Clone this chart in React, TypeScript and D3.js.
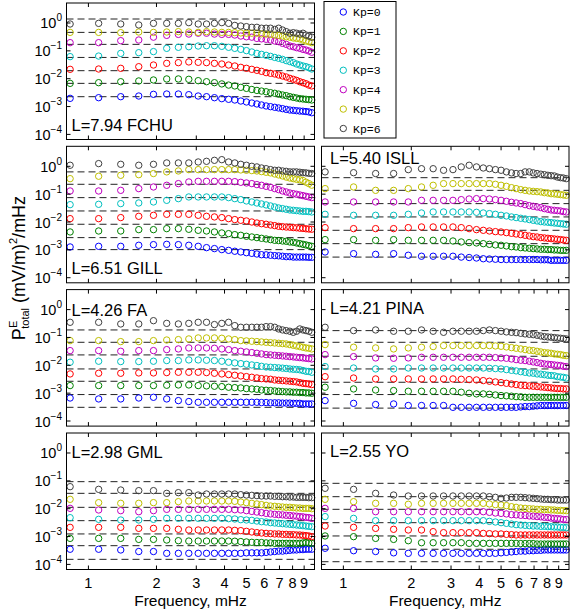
import React from 'react';
import * as d3 from 'd3';

// Frequencies (mHz) of the spectral estimates
const freqs = [0.83, 1.11, 1.39, 1.67, 1.94, 2.22, 2.50, 2.78, 3.06, 3.33, 3.61, 3.89, 4.17, 4.44, 4.72, 5.00, 5.28, 5.56, 5.83, 6.11, 6.39, 6.67, 6.94, 7.22, 7.50, 7.78, 8.06, 8.33, 8.61, 8.89, 9.17, 9.44, 9.72];

const kpLabels = ['Kp=0', 'Kp=1', 'Kp=2', 'Kp=3', 'Kp=4', 'Kp=5', 'Kp=6'];
const kpColors = ['#0000ff', '#008000', '#ff0000', '#00bfbf', '#bf00bf', '#bfbf00', '#404040'];

const xTicks = [1, 2, 3, 4, 5, 6, 7, 8, 9];
const yTicks = [1e-4, 1e-3, 1e-2, 1e-1, 1];
const yTickExp = ['\u22124', '\u22123', '\u22122', '\u22121', '0'];

// ---- FCHU L=7.94 ----
const fchuKp0 = [0.00197,0.00208,0.00226,0.00239,0.00275,0.00282,0.00282,0.00267,0.00239,0.00226,0.00208,0.00192,0.00182,0.00172,0.00158,0.00146,0.00134,0.00124,0.00114,0.00105,0.00099,0.00094,0.00089,0.00084,0.00079,0.00075,0.00073,0.00071,0.00069,0.00068,0.00066,0.00064,0.0006];
const fchuKp1 = [0.0068,0.0072,0.0078,0.0083,0.0090,0.0098,0.0098,0.0095,0.0085,0.0078,0.0072,0.0065,0.0059,0.0055,0.0049,0.0045,0.0041,0.0038,0.0036,0.0034,0.00315,0.0030,0.0028,0.0026,0.00246,0.00226,0.00214,0.00203,0.00192,0.00187,0.00182,0.00177,0.00172];
const fchuKp2 = [0.0217,0.0223,0.0236,0.027,0.031,0.0356,0.0377,0.040,0.0387,0.0377,0.0356,0.0337,0.031,0.0286,0.0256,0.0236,0.0217,0.020,0.0184,0.0165,0.0156,0.0148,0.0136,0.0125,0.0115,0.0103,0.0095,0.0087,0.0078,0.0072,0.0066,0.0059,0.0055];
const fchuKp3 = [0.062,0.065,0.081,0.086,0.094,0.123,0.134,0.141,0.149,0.153,0.153,0.145,0.134,0.123,0.113,0.102,0.091,0.081,0.075,0.069,0.0635,0.058,0.054,0.0495,0.0445,0.041,0.0377,0.0337,0.031,0.0286,0.027,0.0249,0.0223];
const fchuKp4 = [0.197,0.197,0.232,0.245,0.31,0.36,0.39,0.40,0.43,0.43,0.40,0.39,0.39,0.37,0.34,0.32,0.31,0.28,0.27,0.26,0.245,0.226,0.214,0.186,0.171,0.149,0.141,0.13,0.123,0.113,0.107,0.099,0.089];
const fchuKp5 = [0.46,0.46,0.45,0.475,0.46,0.475,0.49,0.475,0.46,0.49,0.475,0.46,0.46,0.45,0.44,0.43,0.43,0.43,0.41,0.40,0.39,0.37,0.36,0.34,0.32,0.31,0.29,0.28,0.27,0.245,0.226,0.214,0.197];
const fchuKp6 = [0.92,0.97,0.92,0.85,0.97,0.97,0.97,1.03,0.92,0.92,0.97,1.03,0.97,0.82,0.78,0.74,0.70,0.70,0.65,0.65,0.65,0.59,0.65,0.56,0.49,0.43,0.45,0.43,0.40,0.43,0.37,0.34,0.31];
const fchuRef = [0.00226, 0.0068, 0.0194, 0.058, 0.171, 0.46, 1.39];

// ---- GILL L=6.51 ----
const gillKp0 = [0.00127,0.00134,0.00134,0.00146,0.00154,0.00158,0.00154,0.00146,0.00134,0.0012,0.00111,0.00102,0.00096,0.00089,0.00084,0.00079,0.00075,0.00071,0.00067,0.00066,0.00064,0.00062,0.00061,0.00059,0.00057,0.00057,0.00055,0.00055,0.00055,0.00055,0.00055,0.00054,0.00054];
const gillKp1 = [0.00439,0.00476,0.00476,0.00532,0.00532,0.00578,0.00578,0.00547,0.00503,0.00476,0.00439,0.00404,0.00382,0.00352,0.00333,0.00307,0.0029,0.00275,0.0026,0.00246,0.00233,0.0022,0.00215,0.00208,0.00203,0.00192,0.00187,0.00177,0.00167,0.00158,0.0015,0.00142,0.00134];
const gillKp2 = [0.0132,0.0132,0.0144,0.016,0.0174,0.0189,0.0189,0.0189,0.0174,0.016,0.0152,0.0144,0.0132,0.0122,0.0115,0.0109,0.010,0.0092,0.0087,0.0083,0.0078,0.0074,0.0070,0.0068,0.0066,0.0065,0.0063,0.0062,0.0060,0.0059,0.0057,0.0056,0.0055];
const gillKp3 = [0.042,0.0432,0.0457,0.0482,0.0524,0.060,0.069,0.0793,0.0793,0.0793,0.0793,0.0793,0.075,0.069,0.0635,0.057,0.0524,0.0482,0.0445,0.041,0.0377,0.0347,0.0319,0.0302,0.0286,0.027,0.0263,0.0256,0.0249,0.0242,0.0242,0.0236,0.0229];
const gillKp4 = [0.13,0.13,0.137,0.158,0.181,0.208,0.239,0.274,0.289,0.289,0.289,0.289,0.289,0.281,0.266,0.252,0.239,0.22,0.208,0.191,0.176,0.158,0.145,0.13,0.12,0.11,0.104,0.099,0.0935,0.0885,0.0837,0.0793,0.075];
const gillKp5 = [0.36,0.44,0.475,0.50,0.55,0.63,0.68,0.76,0.76,0.76,0.76,0.76,0.76,0.76,0.74,0.72,0.70,0.68,0.645,0.61,0.58,0.53,0.49,0.45,0.41,0.38,0.36,0.34,0.33,0.31,0.27,0.24,0.21];
const gillKp6 = [1.09,1.25,1.18,1.09,1.18,1.32,1.32,1.32,1.43,1.51,1.64,1.73,1.43,1.32,1.18,1.09,1.0,0.95,0.87,0.82,0.76,0.72,0.72,0.68,0.66,0.63,0.63,0.63,0.61,0.59,0.58,0.56,0.55];
const gillRef = [0.00102, 0.00275, 0.0083, 0.0249, 0.075, 0.226, 0.63];

// ---- ISLL L=5.40 ----
const isllKp0 = [0.00084,0.00073,0.00069,0.00073,0.00064,0.00059,0.00059,0.00059,0.00059,0.00055,0.00053,0.00051,0.00048,0.00047,0.00046,0.00045,0.00045,0.00045,0.00045,0.00045,0.00045,0.00045,0.00045,0.00045,0.00044,0.00044,0.00044,0.00042,0.00042,0.00042,0.00042,0.00042,0.00042];
const isllKp1 = [0.00233,0.00233,0.0022,0.00233,0.0022,0.0022,0.0022,0.0022,0.00208,0.00192,0.00182,0.00177,0.00167,0.00158,0.0015,0.00146,0.00138,0.0013,0.00127,0.0012,0.00117,0.00114,0.00111,0.00108,0.00105,0.00105,0.00102,0.00102,0.00099,0.00099,0.00096,0.00096,0.00096];
const isllKp2 = [0.00628,0.00578,0.00578,0.00578,0.00628,0.00664,0.00664,0.00664,0.00664,0.00628,0.00578,0.00532,0.00503,0.00476,0.00451,0.00439,0.00415,0.00393,0.00372,0.00352,0.00333,0.00315,0.00298,0.0029,0.00275,0.00268,0.0026,0.00253,0.00246,0.0024,0.00233,0.00226,0.0022];
const isllKp3 = [0.0189,0.0174,0.0174,0.0174,0.0189,0.0211,0.0229,0.0229,0.0229,0.0229,0.0229,0.0223,0.0211,0.020,0.0189,0.0174,0.0165,0.0152,0.0144,0.0136,0.0129,0.0122,0.0115,0.0109,0.0103,0.010,0.0098,0.0095,0.0092,0.0090,0.0087,0.0085,0.0083];
const isllKp4 = [0.0524,0.0524,0.0524,0.0524,0.0524,0.060,0.060,0.060,0.060,0.0635,0.067,0.069,0.069,0.067,0.0635,0.060,0.0554,0.051,0.0482,0.0457,0.042,0.0387,0.0366,0.0347,0.0328,0.0302,0.0286,0.027,0.0263,0.0256,0.0249,0.0236,0.0229];
const isllKp5 = [0.158,0.181,0.137,0.137,0.158,0.181,0.208,0.239,0.239,0.239,0.239,0.239,0.239,0.239,0.226,0.208,0.191,0.171,0.158,0.145,0.137,0.13,0.126,0.123,0.12,0.113,0.11,0.104,0.102,0.099,0.096,0.0935,0.091];
const isllKp6 = [0.63,0.59,0.55,0.55,0.76,0.82,0.82,0.72,0.76,0.95,1.09,0.95,0.87,0.82,0.76,0.72,0.63,0.58,0.55,0.55,0.63,0.63,0.58,0.55,0.52,0.50,0.475,0.46,0.45,0.41,0.39,0.38,0.36];
const isllRef = [0.00055, 0.00167, 0.00503, 0.0152, 0.0457, 0.137, 0.39];

// ---- FA L=4.26 ----
const faKp0 = [0.00067,0.00062,0.00062,0.00067,0.00071,0.00062,0.00054,0.0005,0.00047,0.00047,0.00047,0.00047,0.00047,0.00047,0.00047,0.00047,0.00047,0.00047,0.00046,0.00046,0.00045,0.00045,0.00045,0.00044,0.00044,0.00044,0.00043,0.00043,0.00043,0.00041,0.00041,0.00041,0.00041];
const faKp1 = [0.00187,0.00187,0.00187,0.00187,0.00187,0.00192,0.00197,0.00197,0.00187,0.00182,0.00177,0.00172,0.00163,0.00158,0.00154,0.00146,0.00142,0.00138,0.0013,0.00127,0.00124,0.0012,0.00117,0.00114,0.00111,0.00111,0.00108,0.00108,0.00105,0.00105,0.00102,0.00102,0.00099];
const faKp2 = [0.0049,0.00518,0.00518,0.00532,0.00532,0.00547,0.00562,0.00562,0.00562,0.00547,0.00518,0.0049,0.00463,0.00439,0.00415,0.00393,0.00372,0.00352,0.00333,0.00324,0.00315,0.00298,0.0029,0.00282,0.00275,0.00268,0.0026,0.00253,0.00239,0.00226,0.0022,0.00214,0.00203];
const faKp3 = [0.0129,0.014,0.0136,0.0136,0.014,0.0148,0.0148,0.0156,0.0156,0.0152,0.0148,0.014,0.0129,0.0122,0.0115,0.0109,0.0103,0.0098,0.0092,0.0087,0.0085,0.0083,0.0081,0.0079,0.0077,0.0074,0.0072,0.0071,0.0069,0.0065,0.0061,0.0060,0.0056];
const faKp4 = [0.0337,0.0337,0.0319,0.0337,0.0337,0.0366,0.0387,0.042,0.042,0.042,0.041,0.0387,0.0366,0.0337,0.0319,0.0302,0.0286,0.027,0.0256,0.0242,0.0236,0.0229,0.0223,0.0217,0.0211,0.0205,0.020,0.0194,0.0189,0.0184,0.0179,0.0174,0.0169];
const faKp5 = [0.077,0.077,0.071,0.071,0.077,0.081,0.0837,0.0885,0.096,0.096,0.096,0.0935,0.0885,0.0837,0.077,0.075,0.073,0.071,0.069,0.067,0.065,0.0635,0.0618,0.060,0.0585,0.0554,0.0524,0.0495,0.0469,0.0445,0.042,0.041,0.0387];
const faKp6 = [0.35,0.35,0.305,0.305,0.40,0.32,0.305,0.32,0.35,0.35,0.29,0.32,0.35,0.266,0.232,0.232,0.232,0.232,0.232,0.245,0.245,0.232,0.202,0.186,0.176,0.167,0.153,0.167,0.202,0.186,0.176,0.167,0.153];
const faRef = [0.00031, 0.00089, 0.00267, 0.0074, 0.0236, 0.067, 0.186];

// ---- PINA L=4.21 ----
const pinaKp0 = [0.00054,0.00043,0.00039,0.00041,0.00036,0.00036,0.00036,0.00036,0.00031,0.00031,0.00031,0.00031,0.00031,0.00031,0.00031,0.00031,0.00031,0.00031,0.00031,0.00032,0.00033,0.00033,0.00034,0.00035,0.00036,0.00036,0.00036,0.00036,0.00036,0.00036,0.00036,0.00036,0.00036];
const pinaKp1 = [0.00163,0.00142,0.0013,0.00124,0.00117,0.00117,0.00117,0.00117,0.00117,0.00108,0.00099,0.00094,0.00094,0.00091,0.00086,0.00082,0.0008,0.00078,0.00075,0.00074,0.00071,0.00071,0.00071,0.00071,0.00071,0.00071,0.00071,0.00071,0.00071,0.00071,0.00071,0.00071,0.00071];
const pinaKp2 = [0.0039,0.0035,0.00324,0.00324,0.00324,0.00324,0.00324,0.00324,0.00324,0.00315,0.00307,0.00298,0.00282,0.00268,0.00253,0.00239,0.00226,0.00214,0.00203,0.00192,0.00187,0.00182,0.00177,0.00172,0.00167,0.00163,0.00158,0.00154,0.0015,0.00146,0.00146,0.00142,0.00142];
const pinaKp3 = [0.009,0.008,0.0074,0.0074,0.008,0.008,0.008,0.008,0.008,0.008,0.008,0.008,0.008,0.0078,0.0076,0.0074,0.0070,0.0066,0.0063,0.0059,0.0056,0.0053,0.0052,0.0049,0.0048,0.0046,0.0044,0.0043,0.0042,0.0039,0.0038,0.0037,0.0035];
const pinaKp4 = [0.0242,0.0205,0.0184,0.0179,0.0184,0.0194,0.0194,0.0194,0.0194,0.0194,0.0194,0.0194,0.0194,0.0194,0.0189,0.0184,0.0179,0.0169,0.016,0.0152,0.0148,0.014,0.0132,0.0125,0.0118,0.0112,0.0109,0.0106,0.0103,0.010,0.0098,0.0092,0.009];
const pinaKp5 = [0.0554,0.0445,0.042,0.0387,0.042,0.0445,0.0469,0.051,0.051,0.051,0.051,0.051,0.051,0.051,0.0495,0.0482,0.0457,0.0432,0.041,0.0387,0.0366,0.0347,0.0337,0.0319,0.0302,0.0286,0.0278,0.027,0.0256,0.0249,0.0242,0.0229,0.0223];
const pinaKp6 = [0.232,0.176,0.186,0.167,0.167,0.186,0.167,0.153,0.167,0.167,0.167,0.167,0.176,0.186,0.176,0.167,0.158,0.153,0.149,0.141,0.134,0.13,0.126,0.12,0.113,0.107,0.104,0.102,0.099,0.096,0.0935,0.091,0.0885];
const pinaRef = [0.00029, 0.00089, 0.00246, 0.0074, 0.0211, 0.067, 0.176];

// ---- GML L=2.98 ----
const gmlKp0 = [0.00035,0.00035,0.00033,0.00029,0.00029,0.00025,0.00025,0.00025,0.00025,0.00025,0.00025,0.00025,0.00025,0.00025,0.00025,0.00026,0.00026,0.00026,0.00026,0.00027,0.00028,0.00029,0.0003,0.0003,0.00031,0.00032,0.00033,0.00033,0.00034,0.00034,0.00035,0.00035,0.00035];
const gmlKp1 = [0.00086,0.00086,0.00086,0.00079,0.00079,0.00075,0.00071,0.00069,0.00069,0.00069,0.00069,0.00069,0.00069,0.00068,0.00066,0.00064,0.00062,0.00061,0.00061,0.00059,0.00059,0.00057,0.00057,0.00057,0.00057,0.00057,0.00057,0.00057,0.00057,0.00059,0.00061,0.00059,0.00057];
const gmlKp2 = [0.00214,0.00214,0.00214,0.00197,0.00197,0.00197,0.00182,0.00172,0.00172,0.00172,0.00172,0.00172,0.00172,0.00167,0.00163,0.00154,0.00146,0.00138,0.00134,0.0013,0.00127,0.00124,0.00124,0.0012,0.0012,0.00117,0.00117,0.00114,0.00114,0.00111,0.00108,0.00105,0.00099];
const gmlKp3 = [0.00476,0.00415,0.00393,0.00393,0.00415,0.00451,0.00451,0.00451,0.00451,0.00451,0.00451,0.00451,0.00439,0.00427,0.00404,0.00393,0.00382,0.00361,0.00342,0.00333,0.00315,0.00307,0.00298,0.0029,0.00282,0.00275,0.00267,0.0026,0.00253,0.00246,0.00239,0.00233,0.00226];
const gmlKp4 = [0.0103,0.009,0.0085,0.0078,0.0085,0.0095,0.0095,0.0095,0.0095,0.0095,0.0095,0.0095,0.0095,0.0092,0.009,0.0085,0.008,0.0076,0.0072,0.0068,0.0065,0.0063,0.0061,0.006,0.0058,0.0057,0.0055,0.0054,0.0052,0.0051,0.0049,0.0048,0.0045];
const gmlKp5 = [0.0217,0.0165,0.0156,0.0156,0.0165,0.0165,0.0179,0.0189,0.0189,0.0189,0.0189,0.0189,0.0189,0.0184,0.0174,0.0165,0.0156,0.0148,0.014,0.0132,0.0125,0.0122,0.0118,0.0115,0.0112,0.0112,0.0109,0.0106,0.0106,0.0103,0.0103,0.0103,0.010];
const gmlKp6 = [0.0618,0.0495,0.0469,0.0445,0.0445,0.0356,0.0377,0.0377,0.031,0.0337,0.0337,0.0337,0.0337,0.0337,0.0319,0.031,0.0302,0.0295,0.0286,0.0286,0.0286,0.0278,0.0278,0.027,0.027,0.0263,0.0263,0.0256,0.0256,0.0256,0.0256,0.0249,0.0249];
const gmlRef = [0.000152, 0.00047, 0.00124, 0.00372, 0.0112, 0.0356, 0.0935];

// ---- YO L=2.55 ----
const yoKp0 = [0.00038,0.00031,0.00029,0.00026,0.00025,0.00025,0.00025,0.00025,0.00025,0.00025,0.00025,0.00025,0.00025,0.00025,0.00025,0.00026,0.00027,0.00028,0.00029,0.0003,0.0003,0.00031,0.00031,0.00032,0.00032,0.00033,0.00033,0.00033,0.00033,0.00033,0.00033,0.00033,0.00033];
const yoKp1 = [0.00105,0.00099,0.00086,0.00079,0.00071,0.0006,0.0006,0.0006,0.0006,0.0006,0.00057,0.00057,0.00057,0.00057,0.00057,0.00057,0.00057,0.00057,0.00057,0.00056,0.00056,0.00056,0.00056,0.00054,0.00054,0.00054,0.00054,0.00054,0.00054,0.00054,0.00054,0.00054,0.00054];
const yoKp2 = [0.00239,0.00214,0.00197,0.00182,0.00172,0.00172,0.0015,0.00138,0.00138,0.00138,0.00138,0.00138,0.0013,0.00127,0.00124,0.00124,0.0012,0.00117,0.00114,0.00114,0.00114,0.00114,0.00114,0.00114,0.00114,0.00114,0.00114,0.00114,0.00114,0.00114,0.00114,0.00114,0.00114];
const yoKp3 = [0.0052,0.0045,0.00372,0.00372,0.00372,0.00372,0.00372,0.00372,0.00372,0.00372,0.00372,0.00372,0.00372,0.00351,0.00333,0.00315,0.00298,0.00282,0.00267,0.0026,0.00253,0.00246,0.00239,0.00239,0.00233,0.00233,0.00226,0.00226,0.0022,0.0022,0.00214,0.00214,0.00208];
const yoKp4 = [0.0103,0.0103,0.0078,0.0078,0.0078,0.0078,0.0078,0.0078,0.0078,0.0078,0.0078,0.0078,0.0078,0.0074,0.0070,0.0068,0.0065,0.0061,0.006,0.0058,0.0057,0.0055,0.0054,0.0052,0.0051,0.0049,0.0048,0.0046,0.0045,0.0044,0.0043,0.0041,0.0041];
const yoKp5 = [0.0217,0.0179,0.0156,0.0156,0.0144,0.0156,0.0156,0.0156,0.0156,0.0156,0.0156,0.0156,0.0156,0.0148,0.014,0.0136,0.0129,0.0118,0.0112,0.0106,0.0103,0.010,0.0098,0.0095,0.0095,0.0092,0.0092,0.009,0.009,0.0087,0.0087,0.0085,0.0085];
const yoKp6 = [0.054,0.0495,0.0356,0.031,0.0286,0.0286,0.0286,0.0286,0.0286,0.0286,0.0286,0.0286,0.0286,0.027,0.0256,0.0236,0.0242,0.0256,0.0256,0.0256,0.0249,0.0242,0.0236,0.023,0.0223,0.0217,0.0217,0.0211,0.0211,0.0205,0.0205,0.0205,0.0205];
const yoRef = [0.000125, 0.00035, 0.00105, 0.00315, 0.0095, 0.027, 0.0815];

type Panel = {
  name: string; row: number; col: number; series: number[][]; refs: number[];
  labelDy: number;
};

const panels: Panel[] = [
  { name: 'L=7.94 FCHU', row: 0, col: 0, series: [fchuKp0, fchuKp1, fchuKp2, fchuKp3, fchuKp4, fchuKp5, fchuKp6], refs: fchuRef, labelDy: 127.7 },
  { name: 'L=6.51 GILL', row: 1, col: 0, series: [gillKp0, gillKp1, gillKp2, gillKp3, gillKp4, gillKp5, gillKp6], refs: gillRef, labelDy: 127.3 },
  { name: 'L=5.40 ISLL', row: 1, col: 1, series: [isllKp0, isllKp1, isllKp2, isllKp3, isllKp4, isllKp5, isllKp6], refs: isllRef, labelDy: 17.5 },
  { name: 'L=4.26 FA', row: 2, col: 0, series: [faKp0, faKp1, faKp2, faKp3, faKp4, faKp5, faKp6], refs: faRef, labelDy: 26 },
  { name: 'L=4.21 PINA', row: 2, col: 1, series: [pinaKp0, pinaKp1, pinaKp2, pinaKp3, pinaKp4, pinaKp5, pinaKp6], refs: pinaRef, labelDy: 24.3 },
  { name: 'L=2.98 GML', row: 3, col: 0, series: [gmlKp0, gmlKp1, gmlKp2, gmlKp3, gmlKp4, gmlKp5, gmlKp6], refs: gmlRef, labelDy: 25.3 },
  { name: 'L=2.55 YO', row: 3, col: 1, series: [yoKp0, yoKp1, yoKp2, yoKp3, yoKp4, yoKp5, yoKp6], refs: yoRef, labelDy: 23.7 },
];

const W = 574, H = 611;
const colX = [66.5, 321.5];
const colW = [248, 247.5];
const rowY = [3, 146.3, 289.6, 433];
const PH = 136.5;
const FONT = 'Liberation Sans, Arial, Helvetica, sans-serif';

function PanelView({ p }: { p: Panel }) {
  const x0 = colX[p.col], w = colW[p.col], y0 = rowY[p.row];
  const x = d3.scaleLog().domain([0.8, 10]).range([x0, x0 + w]);
  const y = d3.scaleLog().domain([Math.pow(10, -4.183), Math.pow(10, 0.718)]).range([y0 + PH, y0]);
  const showYLabels = p.col === 0;
  const showXLabels = p.row === 3;
  const tl = 4;
  return (
    <g>
      {p.refs.map((r, i) => (
        <line key={'ref' + i} x1={x0} x2={x0 + w} y1={y(r)} y2={y(r)} stroke="#222" strokeWidth={1} strokeDasharray="7,4" />
      ))}
      {p.series.map((s, k) => (
        <g key={'s' + k}>
          {s.map((v, i) => (
            <circle key={i} cx={x(freqs[i])} cy={y(v)} r={3.2} fill="none" stroke={kpColors[k]} strokeWidth={1} />
          ))}
        </g>
      ))}
      <rect x={x0} y={y0} width={w} height={PH} fill="none" stroke="#000" strokeWidth={1} />
      {yTicks.map((t, i) => (
        <g key={'yt' + i}>
          <line x1={x0} x2={x0 + tl} y1={y(t)} y2={y(t)} stroke="#000" />
          <line x1={x0 + w} x2={x0 + w - tl} y1={y(t)} y2={y(t)} stroke="#000" />
          {showYLabels && (
            <text x={62} y={y(t) + 5.5} textAnchor="end" fontFamily={FONT} fontSize={14.5} fill="#000">
              10<tspan dy={-7} fontSize={10}>{yTickExp[i]}</tspan>
            </text>
          )}
        </g>
      ))}
      {xTicks.map((t, i) => (
        <g key={'xt' + i}>
          <line x1={x(t)} x2={x(t)} y1={y0 + PH} y2={y0 + PH - tl} stroke="#000" />
          <line x1={x(t)} x2={x(t)} y1={y0} y2={y0 + tl} stroke="#000" />
          {showXLabels && (
            <text x={x(t)} y={y0 + PH + 18} textAnchor="middle" fontFamily={FONT} fontSize={14.5} fill="#000">{t}</text>
          )}
        </g>
      ))}
      {showXLabels && (
        <text x={x0 + w / 2} y={606} textAnchor="middle" fontFamily={FONT} fontSize={15.5} fill="#000">Frequency, mHz</text>
      )}
      <text x={x0 + (p.col === 0 ? 5 : 8.5)} y={y0 + p.labelDy} fontFamily={FONT} fontSize={16.5} fill="#000">{p.name}</text>
    </g>
  );
}

function Legend() {
  const lx = 324, ly = 1.5, lw = 72, lh = 136.5;
  const yPos = d3.scaleLinear().domain([0, 6]).range([ly + 10.5, ly + 127]);
  return (
    <g>
      <rect x={lx} y={ly} width={lw} height={lh} fill="#fff" stroke="#000" strokeWidth={1} />
      {kpLabels.map((l, i) => (
        <g key={l}>
          <circle cx={343.3} cy={yPos(i)} r={3.2} fill="none" stroke={kpColors[i]} strokeWidth={1} />
          <text x={353} y={yPos(i) + 4} fontFamily="Liberation Mono, DejaVu Sans Mono, monospace" fontSize={11.5} fill="#000">{l}</text>
        </g>
      ))}
    </g>
  );
}

export default function App() {
  return (
    <svg width={W} height={H} viewBox={`0 0 ${W} ${H}`} style={{ position: 'absolute', left: 0, top: 0, background: '#fff' }}>
      <rect x={0} y={0} width={W} height={H} fill="#fff" />
      {panels.map((p) => <PanelView key={p.name} p={p} />)}
      <Legend />
      <text transform="translate(25,268) rotate(-90)" textAnchor="middle" fontFamily={FONT} fontSize={18} fill="#000">
        P<tspan dy={-8} fontSize={11}>E</tspan><tspan dx={-8} dy={12} fontSize={11}>total</tspan><tspan dy={-4}> (mV/m)</tspan><tspan dy={-8} fontSize={11}>2</tspan><tspan dy={8}>/mHz</tspan>
      </text>
    </svg>
  );
}
